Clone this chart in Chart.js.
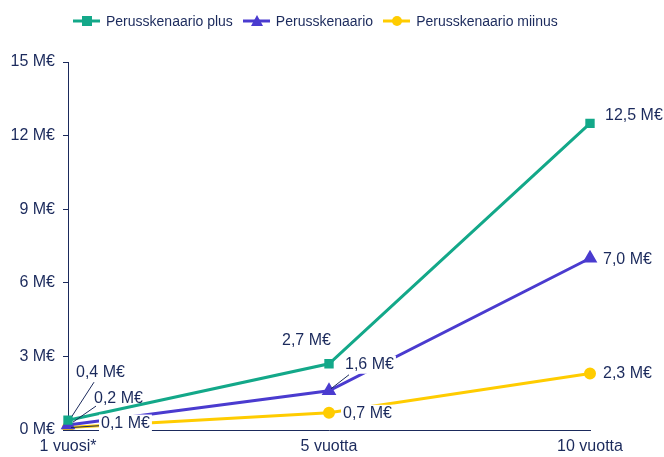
<!DOCTYPE html>
<html><head><meta charset="utf-8">
<script src="https://cdn.jsdelivr.net/npm/chart.js@4.4.1/dist/chart.umd.min.js"></script>
<style>
html,body{margin:0;padding:0;background:#fff;}
#wrap{position:relative;width:664px;height:457px;}
#legend{position:absolute;top:12px;left:73px;display:flex;font:14px "Liberation Sans",Arial,sans-serif;color:#1b2a5c;z-index:2;white-space:nowrap;}
.li{display:flex;align-items:center;margin-right:10px;}
.li svg{margin-right:6px;}
canvas{position:absolute;top:0;left:0;}
</style></head>
<body><div id="wrap">
<div id="legend"></div>
<canvas id="c" width="664" height="457"></canvas>
</div>
<script>
const categories = ['1 vuosi*', '5 vuotta', '10 vuotta'];
const seriesNames = ['Perusskenaario plus', 'Perusskenaario', 'Perusskenaario miinus'];
const plusValues = [0.4, 2.7, 12.5];
const perusValues = [0.2, 1.6, 7.0];
const miinusValues = [0.1, 0.7, 2.3];
const yTicks = [0, 3, 6, 9, 12, 15];

const colors = ['#13a889', '#4a3bcf', '#ffcc00'];
const pointStyles = ['rect', 'triangle', 'circle'];
const navy = '#1b2a5c';
const FONT = '"Liberation Sans", Arial, sans-serif';

// label placement (styling): dx, dy relative to point, whiteBg, leader
const labelPlacement = [
  [{dx:8,dy:-48,bg:false,leader:[4,-4,26,-38]},{dx:-47,dy:-23,bg:false},{dx:15,dy:-8,bg:false}],
  [{dx:26,dy:-26,bg:false,leader:[5,-3,28,-19]},{dx:16,dy:-26,bg:true,leader:[2,-2,20,-16]},{dx:13,dy:1,bg:false}],
  [{dx:33,dy:-4,bg:true,leader:[3,0,34,-2]},{dx:14,dy:1,bg:true},{dx:13,dy:0,bg:false}]
];

const fmt = v => v.toFixed(1).replace('.', ',') + ' M€';

// HTML legend
const legendEl = document.getElementById('legend');
seriesNames.forEach((n, i) => {
  let marker;
  if (i === 0) marker = `<rect x="9" y="4" width="10" height="10" fill="${colors[i]}"/>`;
  else if (i === 1) marker = `<polygon points="14,3 20,14 8,14" fill="${colors[i]}"/>`;
  else marker = `<circle cx="14" cy="9" r="5" fill="${colors[i]}"/>`;
  legendEl.insertAdjacentHTML('beforeend',
    `<div class="li"><svg width="27" height="18"><line x1="0" y1="9" x2="27" y2="9" stroke="${colors[i]}" stroke-width="3"/>${marker}</svg>${n}</div>`);
});

const labelPlugin = {
  id: 'valLabels',
  afterDatasetsDraw(chart) {
    const ctx = chart.ctx;
    ctx.save();
    ctx.font = '16px ' + FONT;
    ctx.textBaseline = 'middle';
    ctx.textAlign = 'left';
    for (let d = chart.data.datasets.length - 1; d >= 0; d--) {
      const meta = chart.getDatasetMeta(d);
      meta.data.forEach((pt, i) => {
        const p = labelPlacement[d][i];
        const v = chart.data.datasets[d].data[i];
        const txt = fmt(v);
        const x = pt.x + p.dx, y = pt.y + p.dy;
        if (p.leader) {
          ctx.strokeStyle = navy; ctx.lineWidth = 1;
          ctx.beginPath();
          ctx.moveTo(pt.x + p.leader[0], pt.y + p.leader[1]);
          ctx.lineTo(pt.x + p.leader[2], pt.y + p.leader[3]);
          ctx.stroke();
        }
        const w = ctx.measureText(txt).width;
        if (p.bg) { ctx.fillStyle = '#fff'; ctx.fillRect(x - 2, y - 9, w + 4, 18); }
        ctx.fillStyle = navy;
        ctx.fillText(txt, x, y);
      });
    }
    ctx.restore();
  }
};

new Chart(document.getElementById('c'), {
  type: 'line',
  data: {
    labels: categories,
    datasets: [plusValues, perusValues, miinusValues].map((vals, i) => ({
      label: seriesNames[i],
      data: vals,
      borderColor: colors[i],
      backgroundColor: colors[i],
      borderWidth: 3,
      pointStyle: pointStyles[i],
      pointRadius: i === 1 ? 5.5 : 4.5,
      pointHoverRadius: 5,
      tension: 0,
      fill: false
    }))
  },
  options: {
    responsive: false,
    animation: false,
    events: [],
    layout: { padding: { top: 62, right: 74, left: 0, bottom: 0 } },
    plugins: { legend: { display: false }, tooltip: { enabled: false } },
    scales: {
      x: {
        offset: false,
        grid: { display: false, drawTicks: false },
        border: { display: true, color: navy, width: 1 },
        ticks: { color: navy, font: { size: 16, family: FONT }, padding: 7, maxRotation: 0 },
        afterFit(s) { s.height = 27; }
      },
      y: {
        min: 0, max: 15,
        afterBuildTicks(s) { s.ticks = yTicks.map(v => ({ value: v })); },
        grid: { drawOnChartArea: false, drawTicks: true, tickLength: 5, color: navy },
        border: { display: true, color: navy, width: 1 },
        ticks: { color: navy, font: { size: 16, family: FONT }, padding: 8, callback: v => v + ' M€' },
        afterFit(s) { s.width = 68; }
      }
    }
  },
  plugins: [labelPlugin]
});
</script>
</body></html>
